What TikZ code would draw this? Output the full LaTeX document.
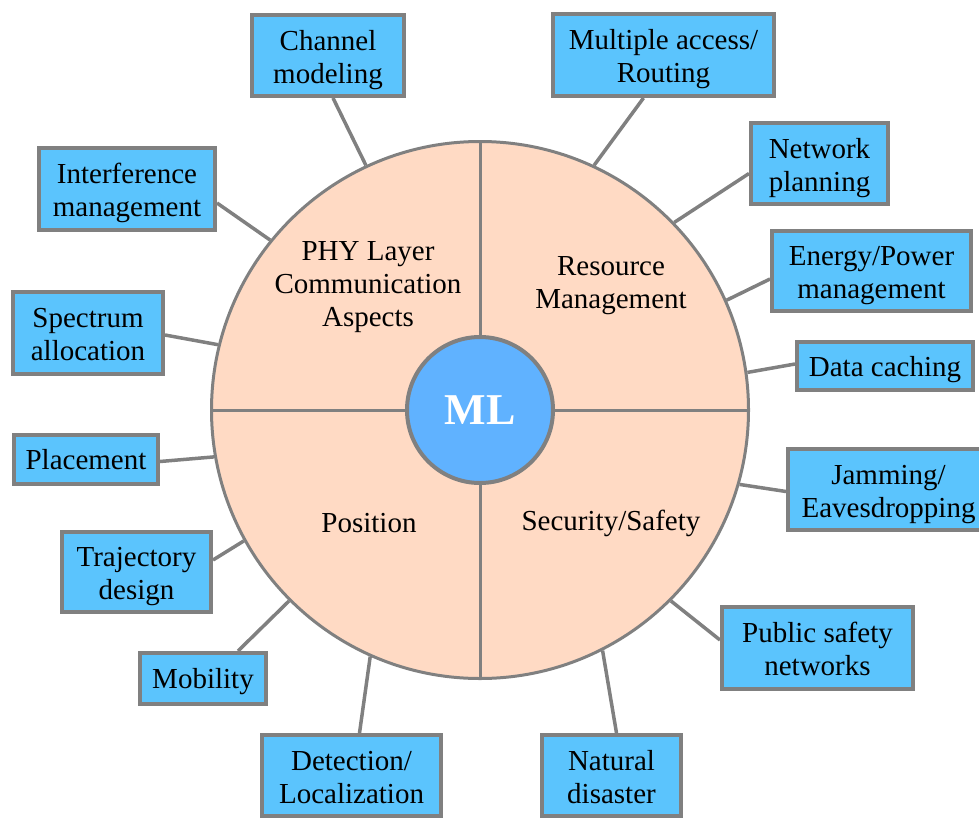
\documentclass[tikz,border=0pt]{standalone}
\usepackage{fontspec}
\setmainfont{Liberation Serif}
\definecolor{boxfill}{RGB}{91,196,253}
\definecolor{mlfill}{RGB}{96,178,255}
\definecolor{peach}{RGB}{255,218,196}
\definecolor{edge}{RGB}{128,128,128}
\begin{document}
\begin{tikzpicture}[x=1pt,y=-1pt,
  topic/.style={draw=edge, line width=4pt, fill=boxfill, inner sep=0pt,
    align=center, font=\fontsize{29}{33}\selectfont},
  oneline/.style={topic, text height=25pt, text depth=5pt},
  twoline/.style={topic, text height=62pt, text depth=7pt},
  link/.style={draw=edge, line width=3.5pt},
  area/.style={align=center, font=\fontsize{29}{33}\selectfont}]
\useasboundingbox (0,0) rectangle (979,819);

% central disc with four quadrants
\node[circle, draw=edge, line width=3pt, fill=peach, minimum size=537pt, inner sep=0pt] (big) at (480,410) {};
\draw[edge, line width=3pt] (big.north) -- (big.south);
\draw[edge, line width=3pt] (big.west) -- (big.east);
\node[circle, draw=edge, line width=4pt, fill=mlfill, minimum size=146pt, inner sep=0pt,
  text=white, font=\fontsize{44}{44}\selectfont\bfseries] (ml) at (480,410) {ML};

\node[area] (phy) at (368,287) {PHY Layer\\Communication\\Aspects};
\node[area] (res) at (611,286) {Resource\\Management};
\node[area] (pos) at (369,523) {Position};
\node[area] (sec) at (611,523) {Security/Safety};

% surrounding topics
\node[twoline, minimum width=152pt, minimum height=81pt] (cm) at (328,55.5) {Channel\\modeling};
\node[twoline, minimum width=221pt, minimum height=82pt] (ma) at (663.5,55) {Multiple access/\\Routing};
\node[twoline, minimum width=137pt, minimum height=81pt] (np) at (819.5,163.5) {Network\\planning};
\node[twoline, minimum width=199pt, minimum height=80pt] (ep) at (871.5,271) {Energy/Power\\management};
\node[oneline, minimum width=176pt, minimum height=48pt] (dc) at (885,366) {Data caching};
\node[twoline, minimum width=201pt, minimum height=81pt] (je) at (888.5,489.5) {Jamming/\\Eavesdropping};
\node[twoline, minimum width=191pt, minimum height=82pt] (ps) at (817.5,648) {Public safety\\networks};
\node[twoline, minimum width=139pt, minimum height=81pt] (nd) at (611.5,775.5) {Natural\\disaster};
\node[twoline, minimum width=179pt, minimum height=81pt] (dl) at (351.5,775.5) {Detection/\\Localization};
\node[oneline, minimum width=126pt, minimum height=51pt] (mo) at (203,678.5) {Mobility};
\node[twoline, minimum width=149pt, minimum height=80pt] (td) at (136.5,572) {Trajectory\\design};
\node[oneline, minimum width=144pt, minimum height=49pt] (pl) at (86,459.5) {Placement};
\node[twoline, minimum width=150pt, minimum height=82pt] (sa) at (88,333) {Spectrum\\allocation};
\node[twoline, minimum width=176pt, minimum height=82pt] (im) at (127,189) {Interference\\management};

% connectors from each topic to the disc rim
\draw[link] ([xshift=5pt]cm.south) -- (big.115.6);
\draw[link] ([xshift=-20pt]ma.south) -- (big.65.6);
\draw[link] ([yshift=-10pt]np.west) -- (big.44.1);
\draw[link] ([yshift=-8pt]ep.west) -- (big.24);
\draw[link] ([yshift=2pt]dc.west) -- (big.8.9);
\draw[link] ([yshift=-2pt]je.west) -- (big.-16.1);
\draw[link] ([yshift=8pt]ps.west) -- (big.-45.8);
\draw[link] ([xshift=5pt]nd.north) -- (big.-63.1);
\draw[link] ([xshift=8pt]dl.north) -- (big.246.6);
\draw[link] ([xshift=35pt]mo.north) -- (big.225.1);
\draw[link] ([yshift=12pt]td.east) -- (big.209.6);
\draw[link] ([yshift=-2pt]pl.east) -- (big.190.2);
\draw[link] ([yshift=-2pt]sa.east) -- (big.166.7);
\draw[link] ([yshift=-14pt]im.east) -- (big.141.6);
\end{tikzpicture}
\end{document}
